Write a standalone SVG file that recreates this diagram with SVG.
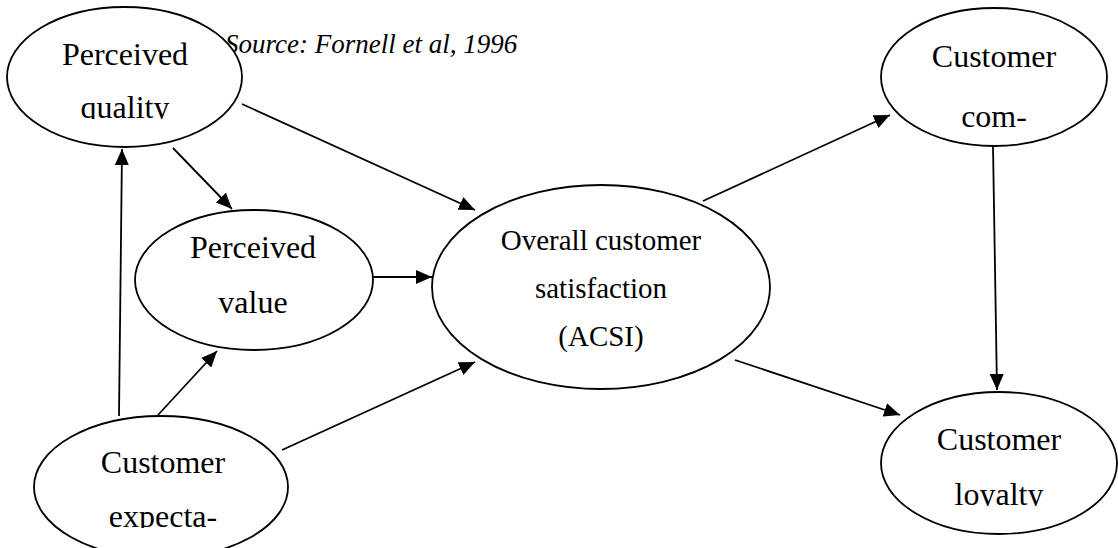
<svg xmlns="http://www.w3.org/2000/svg" width="1118" height="548" viewBox="0 0 1118 548">
  <style>
    .node ellipse { fill: #ffffff; stroke: #000000; stroke-width: 1.8; }
    .lbl { font-family: "Liberation Serif", "Times New Roman", serif; font-size: 32px; fill: #000000; text-anchor: middle; }
    .lbl-main { font-family: "Liberation Serif", "Times New Roman", serif; font-size: 29px; fill: #000000; text-anchor: middle; }
    .src { font-family: "Liberation Serif", "Times New Roman", serif; font-size: 27px; font-style: italic; fill: #000000; }
    .edge { stroke: #000000; stroke-width: 1.8; fill: none; marker-end: url(#arrow); }
  </style>
  <defs>
    <marker id="arrow" markerUnits="userSpaceOnUse" markerWidth="17" markerHeight="14" refX="16" refY="7" orient="auto">
      <path d="M0,0 L16,7 L0,14 z" fill="#000000"/>
    </marker>
    <!-- text boxes that cut off the last line of a label -->
    <clipPath id="clip-quality"><rect x="0" y="0" width="260" height="119"/></clipPath>
    <clipPath id="clip-expect"><rect x="0" y="400" width="300" height="128"/></clipPath>
    <clipPath id="clip-loyalty"><rect x="870" y="380" width="248" height="126"/></clipPath>
  </defs>

  <rect x="0" y="0" width="1118" height="548" fill="#ffffff"/>

  <text class="src" x="225" y="53">Source: Fornell et al, 1996</text>

  <g id="connectors">
    <line class="edge" x1="119" y1="416" x2="122" y2="149"/>
    <line class="edge" x1="173" y1="148" x2="232" y2="209"/>
    <line class="edge" x1="158" y1="415" x2="217" y2="351"/>
    <line class="edge" x1="242" y1="104" x2="475" y2="210"/>
    <line class="edge" x1="372" y1="277" x2="432" y2="277"/>
    <line class="edge" x1="282" y1="450" x2="475" y2="362"/>
    <line class="edge" x1="703" y1="201" x2="890" y2="115"/>
    <line class="edge" x1="735" y1="360" x2="900" y2="415"/>
    <line class="edge" x1="993" y1="146" x2="997" y2="390"/>
  </g>

  <g id="perceived-quality" class="node">
    <ellipse cx="124.5" cy="77" rx="117.5" ry="70"/>
    <g clip-path="url(#clip-quality)">
      <text class="lbl" x="125" y="65">Perceived</text>
      <text class="lbl" x="125" y="118">quality</text>
    </g>
  </g>

  <g id="perceived-value" class="node">
    <ellipse cx="254" cy="280" rx="119" ry="70"/>
    <text class="lbl" x="253" y="258">Perceived</text>
    <text class="lbl" x="253" y="313">value</text>
  </g>

  <g id="customer-expectations" class="node">
    <ellipse cx="161" cy="487" rx="127" ry="71"/>
    <g clip-path="url(#clip-expect)">
      <text class="lbl" x="163" y="473">Customer</text>
      <text class="lbl" x="163" y="527">expecta-</text>
    </g>
  </g>

  <g id="overall-satisfaction" class="node">
    <ellipse cx="601" cy="287" rx="169" ry="102"/>
    <text class="lbl-main" x="601" y="250">Overall customer</text>
    <text class="lbl-main" x="601" y="298">satisfaction</text>
    <text class="lbl-main" x="601" y="346">(ACSI)</text>
  </g>

  <g id="customer-complaints" class="node">
    <ellipse cx="994" cy="77" rx="113" ry="69"/>
    <text class="lbl" x="994" y="67">Customer</text>
    <text class="lbl" x="994" y="127">com-</text>
  </g>

  <g id="customer-loyalty" class="node">
    <ellipse cx="999" cy="463" rx="118" ry="71"/>
    <g clip-path="url(#clip-loyalty)">
      <text class="lbl" x="999" y="450">Customer</text>
      <text class="lbl" x="999" y="505">loyalty</text>
    </g>
  </g>
</svg>
